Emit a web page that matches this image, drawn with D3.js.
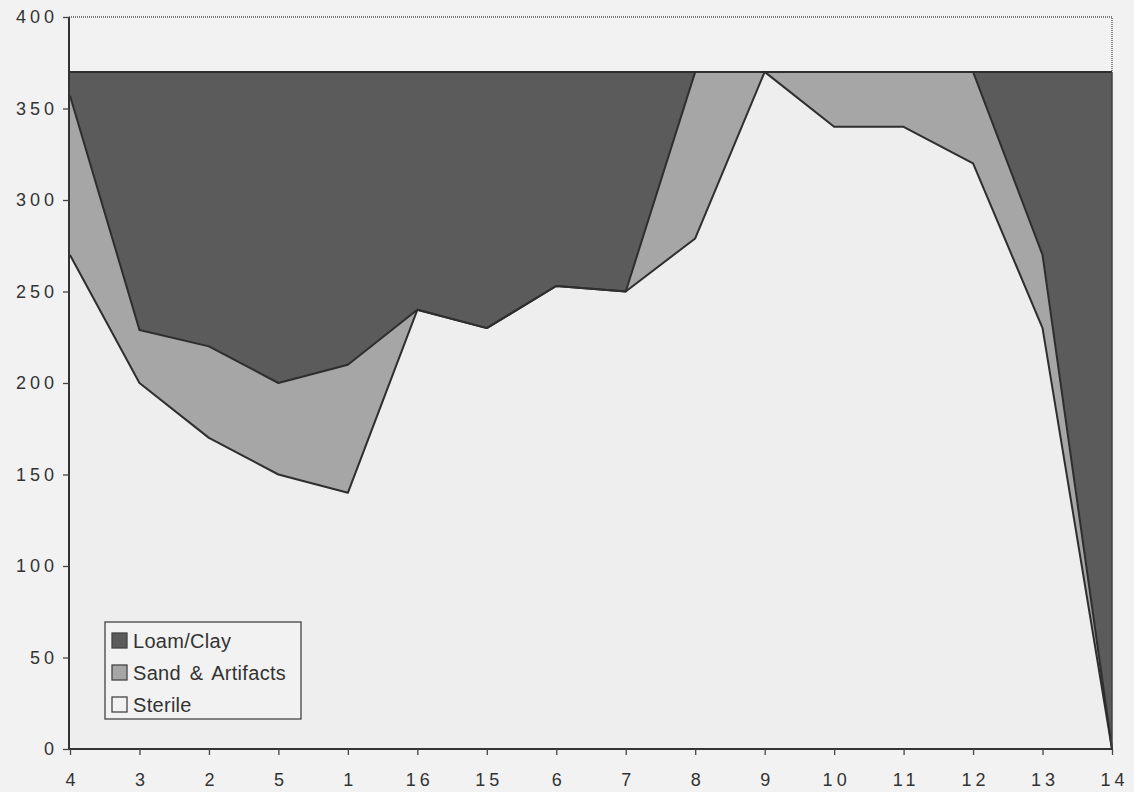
<!DOCTYPE html>
<html>
<head>
<meta charset="utf-8">
<script src="https://cdn.jsdelivr.net/npm/d3@7"></script>
<style>
  html, body { margin: 0; padding: 0; background: #f2f2f2; }
  svg { display: block; }
  text { font-family: "Liberation Sans", Arial, Helvetica, sans-serif; fill: #333; }
</style>
</head>
<body>
<svg id="chart" width="1134" height="792"></svg>
<script>
  // test units along the profile, in drawing order
  const units = ['4', '3', '2', '5', '1', '16', '15', '6', '7', '8', '9', '10', '11', '12', '13', '14'];
  // layer thicknesses (cm), bottom to top
  const sterile = [270, 200, 170, 150, 140, 240, 230, 253, 250, 279, 370, 340, 340, 320, 230, 0];
  const sandArtifacts = [87, 29, 50, 50, 70, 0, 0, 0, 0, 91, 0, 30, 30, 50, 40, 0];
  const loamClay = [13, 141, 150, 170, 160, 130, 140, 117, 120, 0, 0, 0, 0, 0, 100, 370];
  const yTicks = [0, 50, 100, 150, 200, 250, 300, 350, 400];

  const layers = ['Sterile', 'Sand & Artifacts', 'Loam/Clay'];
  const fills = { 'Sterile': '#eeeeee', 'Sand & Artifacts': '#a6a6a6', 'Loam/Clay': '#5b5b5b' };
  const legendOrder = ['Loam/Clay', 'Sand & Artifacts', 'Sterile'];

  (function () {
    const rows = units.map((u, i) => ({
      unit: u,
      'Sterile': sterile[i],
      'Sand & Artifacts': sandArtifacts[i],
      'Loam/Clay': loamClay[i],
    }));

    const svg = d3.select('#chart');
    const margin = { left: 69, right: 1112, top: 17, bottom: 749 };

    const x = d3.scalePoint().domain(units).range([margin.left + 1, margin.right]);
    const y = d3.scaleLinear().domain([0, 400]).range([margin.bottom, margin.top]);

    const stacked = d3.stack().keys(layers)(rows);

    const area = d3.area()
      .x((d) => x(d.data.unit))
      .y0((d) => y(d[0]))
      .y1((d) => y(d[1]));

    const line = d3.line()
      .x((d) => x(d.data.unit))
      .y((d) => y(d[1]));

    // frame above the data (dotted, like the original)
    svg.append('path')
      .attr('d', `M${margin.left},${y(400)}H${margin.right}V${y(370)}`)
      .attr('fill', 'none')
      .attr('stroke', '#555')
      .attr('stroke-width', 1.3)
      .attr('stroke-dasharray', '1 1');

    svg.append('g')
      .selectAll('path')
      .data(stacked)
      .join('path')
      .attr('fill', (d) => fills[d.key])
      .attr('d', area);

    svg.append('g')
      .selectAll('path')
      .data(stacked)
      .join('path')
      .attr('fill', 'none')
      .attr('stroke', '#2e2e2e')
      .attr('stroke-width', 2)
      .attr('stroke-linejoin', 'round')
      .attr('d', line);

    // right edge of the stack
    svg.append('line')
      .attr('x1', margin.right).attr('x2', margin.right)
      .attr('y1', y(0)).attr('y2', y(370))
      .attr('stroke', '#404040')
      .attr('stroke-width', 1.5);

    const yAxis = svg.append('g')
      .attr('transform', `translate(${margin.left},0)`)
      .call(d3.axisLeft(y).tickValues(yTicks).tickSize(6).tickPadding(8).tickSizeOuter(0));

    const xAxis = svg.append('g')
      .attr('transform', `translate(0,${margin.bottom})`)
      .call(d3.axisBottom(x).tickSize(6).tickPadding(18).tickSizeOuter(0));

    [xAxis, yAxis].forEach((g) => {
      g.select('.domain').attr('stroke', '#333').attr('stroke-width', 2);
      g.selectAll('.tick line').attr('stroke', '#444').attr('stroke-width', 1.3);
      g.selectAll('.tick text')
        .attr('fill', '#383838')
        .style('font-size', '18px')
        .style('letter-spacing', '4px');
    });
    xAxis.select('.domain').attr('d', `M${margin.left},0H${margin.right}`);
    yAxis.select('.domain').attr('d', `M0,${margin.bottom}V${margin.top}`);
    yAxis.selectAll('.tick text').attr('dx', '3px');
    xAxis.selectAll('.tick text').attr('dx', '2px');

    // legend
    const legend = svg.append('g').attr('transform', 'translate(105,622)');
    legend.append('rect')
      .attr('width', 196)
      .attr('height', 97)
      .attr('fill', '#f2f2f2')
      .attr('stroke', '#444')
      .attr('stroke-width', 1.3);

    const item = legend.selectAll('g.item')
      .data(legendOrder)
      .join('g')
      .attr('class', 'item')
      .attr('transform', (d, i) => `translate(7,${11 + i * 32})`);

    item.append('rect')
      .attr('width', 15)
      .attr('height', 15)
      .attr('fill', (d) => (d === 'Sterile' ? '#f2f2f2' : fills[d]))
      .attr('stroke', '#444')
      .attr('stroke-width', 1.3);

    item.append('text')
      .attr('x', 21)
      .attr('y', 15)
      .style('font-size', '20px')
      .style('letter-spacing', '0.3px')
      .style('word-spacing', '3px')
      .text((d) => d);
  })();
</script>
</body>
</html>
